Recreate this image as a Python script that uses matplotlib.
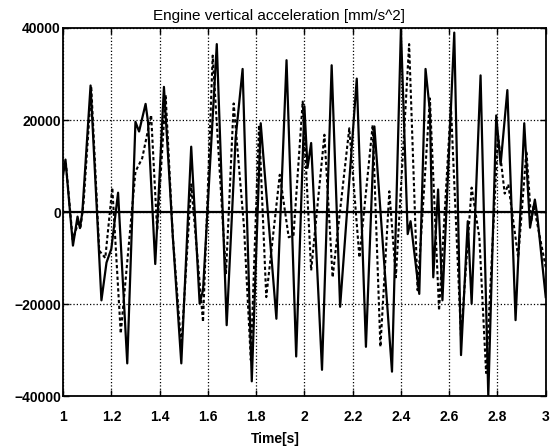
import matplotlib
matplotlib.use("Agg")
from matplotlib import pyplot as plt

# solid curve (measured)
t_meas = [1.000, 1.010, 1.041, 1.060, 1.070, 1.080, 1.114, 1.159, 1.180, 1.200,
          1.228, 1.266, 1.300, 1.315, 1.342, 1.352, 1.382, 1.418, 1.440, 1.455,
          1.490, 1.531, 1.566, 1.580, 1.637, 1.678, 1.715, 1.744, 1.782, 1.819,
          1.884, 1.926, 1.966, 2.000, 2.013, 2.028, 2.073, 2.113, 2.148, 2.217,
          2.255, 2.290, 2.363, 2.400, 2.428, 2.440, 2.476, 2.502, 2.520, 2.534,
          2.554, 2.572, 2.621, 2.649, 2.677, 2.693, 2.730, 2.762, 2.795, 2.813,
          2.841, 2.875, 2.911, 2.935, 2.955, 2.965, 3.000]
a_meas = [8000, 11400, -7300, -1000, -3500, 0, 27500, -19200, -11000, -8000,
          4200, -32900, 19600, 17500, 23500, 19600, -11300, 27200, 8000, -5500,
          -32900, 14200, -19900, -17000, 36500, -24600, 16000, 31100, -36800, 19300,
          -23200, 33000, -31400, 23000, 9600, 15000, -34300, 31900, -20600, 29000,
          -29300, 18600, -34700, 39800, -4800, -2000, -17800, 31100, 22000, -14200,
          4900, -19200, 39000, -31100, -2000, -19900, 29700, -40000, 21000, 10300,
          26500, -23500, 19300, -3400, 2700, -800, -18500]

# dashed curve (model)
t_model = [1.000, 1.012, 1.040, 1.065, 1.072, 1.085, 1.117, 1.150, 1.175, 1.204,
           1.239, 1.300, 1.328, 1.365, 1.390, 1.425, 1.455, 1.490, 1.531, 1.580,
           1.620, 1.675, 1.707, 1.750, 1.778, 1.812, 1.842, 1.898, 1.935, 1.955,
           1.993, 2.028, 2.083, 2.117, 2.186, 2.228, 2.283, 2.315, 2.352, 2.379,
           2.434, 2.469, 2.520, 2.558, 2.607, 2.649, 2.693, 2.725, 2.753, 2.802,
           2.830, 2.845, 2.886, 2.920, 2.940, 2.950, 3.000]
a_model = [9000, 10500, -6000, -2000, -3500, 2000, 27000, -8400, -10000, 5300,
           -26400, 8800, 11700, 21100, -4100, 25400, -5500, -29300, 6000, -23900,
           34000, -13500, 23600, -3400, -32200, 18900, -18500, 8100, -5500, -5000,
           24000, -12700, 16800, -14200, 18200, -9900, 18900, -29300, 4500, -14200,
           36500, -17000, 24700, -21400, 23200, -27100, 5300, -5500, -35000, 16800,
           4000, 6000, -9900, 13200, -2000, 1500, -12000]

x_ticks = [1, 1.2, 1.4, 1.6, 1.8, 2, 2.2, 2.4, 2.6, 2.8, 3]
x_labels = ["1", "1.2", "1.4", "1.6", "1.8", "2", "2.2", "2.4", "2.6", "2.8", "3"]
y_ticks = [-40000, -20000, 0, 20000, 40000]

plt.rcParams['font.family'] = ['Liberation Sans', 'DejaVu Sans']

fig = plt.figure(figsize=(5.58, 4.48), dpi=100)
ax = fig.add_axes([0.113, 0.116, 0.865, 0.8215])

ax.plot(t_model, a_model, color="black", linewidth=1.5, linestyle=(0, (1.6, 1.2)),
        solid_joinstyle="round")
ax.plot(t_meas, a_meas, color="black", linewidth=1.6, solid_joinstyle="round")
ax.axhline(0, color="black", linewidth=1.6)

ax.set_xlim(1, 3)
ax.set_ylim(-40000, 40000)
ax.set_xticks(x_ticks)
ax.set_xticklabels(x_labels)
ax.set_yticks(y_ticks)
ax.grid(True, color="black", linestyle=":", linewidth=0.9)
ax.tick_params(direction="in", length=4, width=1, top=True, right=True,
               labelsize=10)
ax.tick_params(axis="x", pad=10)
ax.tick_params(axis="y", pad=1.5)
for lab in ax.get_xticklabels() + ax.get_yticklabels():
    lab.set_fontweight("bold")
for s in ax.spines.values():
    s.set_linewidth(1.3)

ax.set_title("Engine vertical acceleration [mm/s^2]", fontsize=11, x=0.447, pad=6)
ax.set_xlabel("Time[s]", fontsize=10, fontweight="bold")
ax.xaxis.set_label_coords(0.44, -0.098)

fig.savefig("out.png", dpi=100)
